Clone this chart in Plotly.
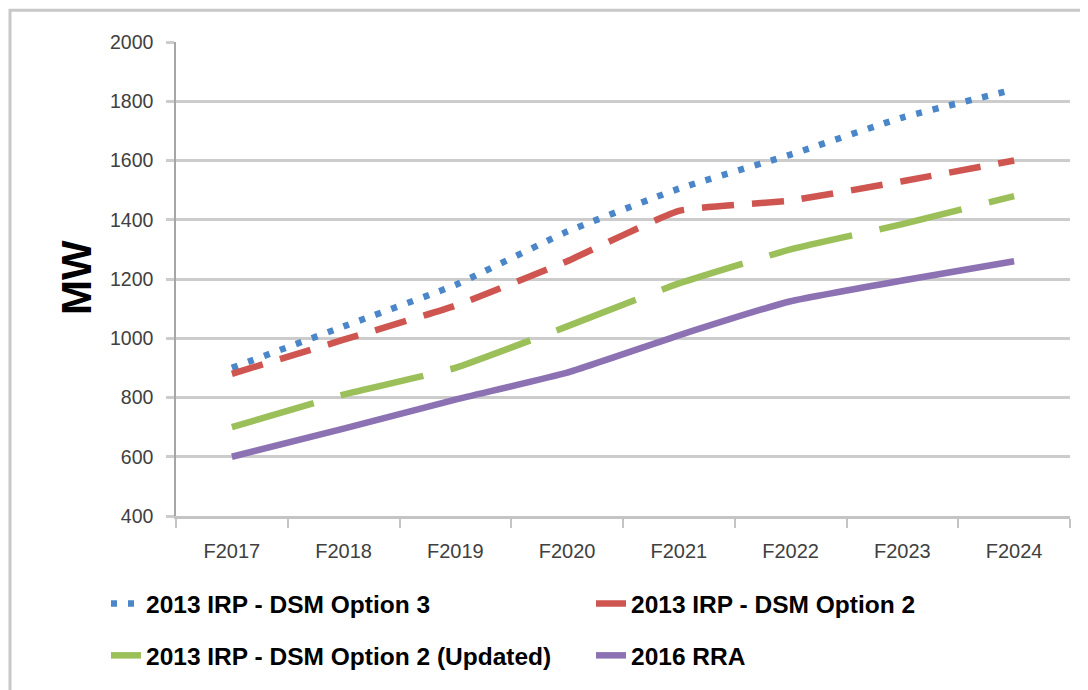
import plotly.graph_objects as go

years = ["F2017", "F2018", "F2019", "F2020", "F2021", "F2022", "F2023", "F2024"]
opt3 = [900, 1040, 1180, 1360, 1505, 1620, 1745, 1840]
opt2 = [880, 995, 1110, 1260, 1430, 1465, 1530, 1600]
opt2_upd = [700, 810, 900, 1040, 1185, 1300, 1385, 1480]
rra = [600, 695, 793, 884, 1010, 1125, 1195, 1260]

names = ["2013 IRP - DSM Option 3", "2013 IRP - DSM Option 2",
         "2013 IRP - DSM Option 2 (Updated)", "2016 RRA"]
colors = ["#4A86C8", "#CF5550", "#9BBF59", "#8D72B3"]
dashes = ["6px,11px", "32px,18px", "85px,28px", "solid"]
series = [opt3, opt2, opt2_upd, rra]
legends = ["legend", "legend", "legend2", "legend2"]

fig = go.Figure()
for n, c, d, s, lg in zip(names, colors, dashes, series, legends):
    fig.add_trace(go.Scatter(
        x=years, y=s, name=n, mode="lines",
        line=dict(color=c, width=6.5, dash=d, shape="spline", smoothing=0.4),
        legend=lg,
    ))

FONT = "Liberation Sans, Arial, sans-serif"
# page offset of the figure div (body margin)
OFF = 8
W, H = 1088 - OFF, 690 - OFF
# plot area in page pixels
PL, PR, PT, PB = 176, 1070, 42, 518
L = PL - OFF
T = PT - OFF
R = W - (PR - OFF)
B = H - (PB - OFF)
pw = PR - PL
ph = PB - PT

def px(x):
    return (x - PL) / pw

def py(y):
    return (PB - y) / ph

fig.update_layout(
    width=W, height=H,
    margin=dict(l=L, r=R, t=T, b=B),
    paper_bgcolor="white", plot_bgcolor="white",
    font=dict(family=FONT, color="#404040"),
    xaxis=dict(
        type="category", range=[-0.5, 7.5],
        showgrid=False, showline=True, linecolor="#c4c4c4", linewidth=2.5,
        ticks="outside", tickson="boundaries", ticklen=9, tickcolor="#c4c4c4",
        tickwidth=1.5, tickfont=dict(size=20, color="#404040"),
        ticklabelstandoff=15, zeroline=False,
    ),
    yaxis=dict(
        range=[400, 2000], dtick=200, tick0=400,
        showgrid=True, gridcolor="#cccccc", gridwidth=3,
        showline=True, linecolor="#a6a6a6", linewidth=1.5,
        ticks="outside", ticklen=8, tickcolor="#cccccc", tickwidth=3,
        tickfont=dict(size=19.5, color="#404040"), ticklabelstandoff=9,
        zeroline=False,
    ),
    legend=dict(
        orientation="h", x=px(106), xanchor="left", y=py(606), yanchor="middle",
        font=dict(size=24.5, color="#000000", family=FONT, weight="bold"),
        entrywidth=440, entrywidthmode="pixels", bgcolor="rgba(0,0,0,0)",
    ),
    legend2=dict(
        orientation="h", x=px(106), xanchor="left", y=py(658), yanchor="middle",
        font=dict(size=24.5, color="#000000", family=FONT, weight="bold"),
        entrywidth=440, entrywidthmode="pixels", bgcolor="rgba(0,0,0,0)",
    ),
    showlegend=True,
    annotations=[dict(
        text="<b>MW</b>", x=px(76), y=py(279), xref="paper", yref="paper",
        showarrow=False, textangle=-90, font=dict(size=42, color="#000000", family=FONT),
        xanchor="center", yanchor="middle",
    )],
    shapes=[dict(
        type="rect", xref="paper", yref="paper",
        x0=px(10), x1=px(1120), y0=py(720), y1=py(10),
        line=dict(color="#c8c8c8", width=3), fillcolor="rgba(0,0,0,0)", layer="below",
    )],
)

fig.write_html("out.html")
